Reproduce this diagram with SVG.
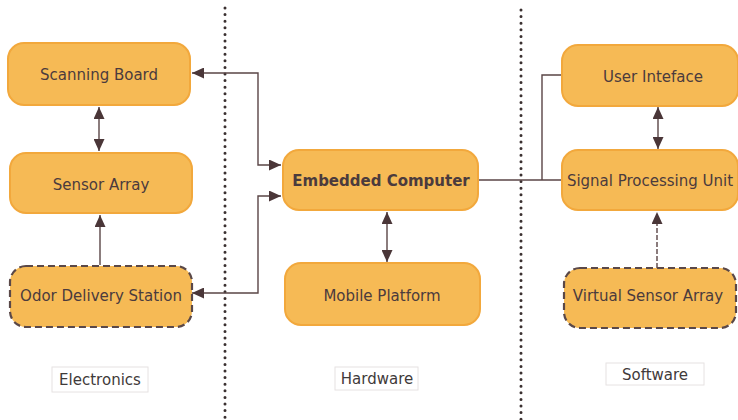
<svg xmlns="http://www.w3.org/2000/svg" width="738" height="420" viewBox="0 0 738 420">
  <defs>
    <style>
      .node rect { fill: #f6ba55; stroke: #f2a83c; stroke-width: 2; }
      .node.dashed rect { stroke: #5a4848; stroke-width: 2.2; stroke-dasharray: 7 4; }
      .node text { font-family: "DejaVu Sans", Verdana, sans-serif; font-size: 15px; fill: #4b3b3d; text-anchor: middle; }
      .node.bold text { font-weight: bold; }
      .tag rect { fill: #ffffff; stroke: #e6e2e2; stroke-width: 1; }
      .tag text { font-family: "DejaVu Sans", Verdana, sans-serif; font-size: 15px; fill: #3f3a3a; text-anchor: middle; }
      .sep { stroke: #3a3030; stroke-width: 3; stroke-linecap: round; stroke-dasharray: 0 6.6; fill: none; }
      .edge { stroke: #5a4546; stroke-width: 1.4; fill: none; }
      .edge.dash { stroke-dasharray: 5 2; }
    </style>
    <marker id="arrow" viewBox="0 0 12 11" refX="12" refY="5.5" markerWidth="12" markerHeight="11" markerUnits="userSpaceOnUse" orient="auto-start-reverse">
      <path d="M0,0 L12,5.5 L0,11 Z" fill="#4a3638"/>
    </marker>
  </defs>

  <rect width="738" height="420" fill="#ffffff"/>

  <!-- column separators -->
  <g id="separators">
    <line class="sep" x1="225" y1="8" x2="225" y2="420"/>
    <line class="sep" x1="521" y1="10" x2="521" y2="420"/>
  </g>

  <!-- connectors -->
  <g id="connectors">
    <line class="edge" x1="99" y1="107" x2="99" y2="151" marker-start="url(#arrow)" marker-end="url(#arrow)"/>
    <line class="edge" x1="100" y1="265" x2="100" y2="215" marker-end="url(#arrow)"/>
    <polyline class="edge" points="281,165 258,165 258,73 192,73" marker-start="url(#arrow)" marker-end="url(#arrow)"/>
    <polyline class="edge" points="281,196 258,196 258,293 192,293" marker-start="url(#arrow)" marker-end="url(#arrow)"/>
    <line class="edge" x1="387" y1="212" x2="387" y2="262" marker-start="url(#arrow)" marker-end="url(#arrow)"/>
    <line class="edge" x1="478" y1="180" x2="562" y2="180"/>
    <polyline class="edge" points="542,180 542,75 562,75"/>
    <line class="edge" x1="658" y1="107" x2="658" y2="149" marker-start="url(#arrow)" marker-end="url(#arrow)"/>
    <line class="edge dash" x1="657" y1="268" x2="657" y2="212" marker-end="url(#arrow)"/>
  </g>

  <!-- electronics -->
  <g id="scanning-board" class="node">
    <rect x="8" y="43" width="182" height="62" rx="16"/>
    <text x="99" y="80">Scanning Board</text>
  </g>
  <g id="sensor-array" class="node">
    <rect x="10" y="153" width="182" height="60" rx="16"/>
    <text x="101" y="190">Sensor Array</text>
  </g>
  <g id="odor-delivery-station" class="node dashed">
    <rect x="10" y="266" width="182" height="61" rx="16"/>
    <text x="101" y="301">Odor Delivery Station</text>
  </g>

  <!-- hardware -->
  <g id="embedded-computer" class="node bold">
    <rect x="283" y="150" width="195" height="60" rx="16"/>
    <text x="381" y="186">Embedded Computer</text>
  </g>
  <g id="mobile-platform" class="node">
    <rect x="285" y="263" width="195" height="62" rx="16"/>
    <text x="382" y="301">Mobile Platform</text>
  </g>

  <!-- software -->
  <g id="user-interface" class="node">
    <rect x="562" y="45" width="176" height="61" rx="16"/>
    <text x="653" y="82">User Inteface</text>
  </g>
  <g id="signal-processing-unit" class="node">
    <rect x="562" y="150" width="176" height="60" rx="16"/>
    <text x="650" y="186">Signal Processing Unit</text>
  </g>
  <g id="virtual-sensor-array" class="node dashed">
    <rect x="564" y="268" width="172" height="60" rx="16"/>
    <text x="648" y="301">Virtual Sensor Array</text>
  </g>

  <!-- column labels -->
  <g id="label-electronics" class="tag">
    <rect x="52" y="367" width="96" height="25"/>
    <text x="100" y="385">Electronics</text>
  </g>
  <g id="label-hardware" class="tag">
    <rect x="335" y="367" width="83" height="23"/>
    <text x="377" y="384">Hardware</text>
  </g>
  <g id="label-software" class="tag">
    <rect x="606" y="363" width="98" height="22"/>
    <text x="655" y="380">Software</text>
  </g>
</svg>
